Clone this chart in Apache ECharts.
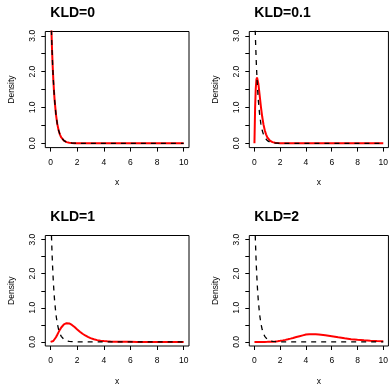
<!DOCTYPE html>
<html>
<head>
<meta charset="utf-8">
<script src="https://cdn.jsdelivr.net/npm/echarts@6/dist/echarts.min.js"></script>
<style>
  html, body { margin: 0; padding: 0; background: #fff; }
  #chart { width: 391px; height: 387px; }
</style>
</head>
<body>
<div id="chart"></div>
<script>
// Shared evaluation grid along x
const xGrid = [0, 0.05, 0.1, 0.15, 0.2, 0.25, 0.3, 0.4, 0.5, 0.6, 0.7, 0.8, 0.9, 1.0,
  1.2, 1.4, 1.6, 1.8, 2.0, 2.2, 2.4, 2.6, 2.8, 3.0, 3.25, 3.5, 3.75, 4.0, 4.25, 4.5,
  4.75, 5.0, 5.5, 6.0, 6.5, 7.0, 7.5, 8.0, 8.5, 9.0, 9.5, 10.0];

// Reference density (black dashed), same in every panel
const refDensity = [4.000, 3.275, 2.681, 2.195, 1.797, 1.472, 1.205, 0.808, 0.541, 0.363,
  0.243, 0.163, 0.109, 0.073, 0.033, 0.015, 0.007, 0.003, 0.001,
  0, 0, 0, 0, 0, 0, 0, 0, 0, 0, 0, 0, 0, 0, 0, 0, 0, 0, 0, 0, 0, 0, 0];

// Alternative densities (red), one per KL divergence
const densKLD0 = [4.000, 3.275, 2.681, 2.195, 1.797, 1.472, 1.205, 0.808, 0.541, 0.363,
  0.243, 0.163, 0.109, 0.073, 0.033, 0.015, 0.007, 0.003, 0.001,
  0, 0, 0, 0, 0, 0, 0, 0, 0, 0, 0, 0, 0, 0, 0, 0, 0, 0, 0, 0, 0, 0, 0];
const densKLD01 = [0, 0.974, 1.516, 1.771, 1.839, 1.791, 1.673, 1.353, 1.026, 0.747,
  0.528, 0.366, 0.250, 0.168, 0.074, 0.032, 0.013, 0.006, 0.002,
  0, 0, 0, 0, 0, 0, 0, 0, 0, 0, 0, 0, 0, 0, 0, 0, 0, 0, 0, 0, 0, 0, 0];
const densKLD1 = [0, 0.001, 0.004, 0.013, 0.027, 0.047, 0.073, 0.136, 0.210, 0.287,
  0.360, 0.423, 0.475, 0.515, 0.550, 0.540, 0.497, 0.435, 0.366, 0.300, 0.240, 0.188,
  0.145, 0.110, 0.076, 0.052, 0.035, 0.024, 0.016, 0.010, 0.007, 0.004, 0.002, 0.001,
  0, 0, 0, 0, 0, 0, 0, 0];
const densKLD2 = [0, 0, 0, 0, 0, 0, 0, 0, 0, 0, 0, 0, 0.001, 0.001, 0.003, 0.007, 0.013,
  0.021, 0.032, 0.045, 0.060, 0.077, 0.096, 0.116, 0.143, 0.168, 0.192, 0.215, 0.226,
  0.228, 0.224, 0.215, 0.195, 0.165, 0.134, 0.105, 0.081, 0.062, 0.047, 0.035, 0.026, 0.019];

const panelTitles = ['KLD=0', 'KLD=0.1', 'KLD=1', 'KLD=2'];
const panelDensities = [densKLD0, densKLD01, densKLD1, densKLD2];

const xTicks = [0, 2, 4, 6, 8, 10];
const yTicks = [0, 0.5, 1, 1.5, 2, 2.5, 3];
const yTickLabels = [0, 1, 2, 3];

const FONT = '"Liberation Sans", Arial, Helvetica, sans-serif';
const CELL = 204;
const BOX = { left: 45.3, top: 31.5, width: 143.7, height: 116.1 };

const pairs = (ys) => xGrid.map((x, i) => [x, ys[i]]);

const grids = [], xAxes = [], yAxes = [], series = [], titles = [];

panelTitles.forEach((name, i) => {
  const col = i % 2, row = Math.floor(i / 2);
  const left = BOX.left + col * CELL;
  const top = BOX.top + row * CELL;
  grids.push({
    left: left, top: top, width: BOX.width, height: BOX.height,
    show: true, borderColor: '#000', borderWidth: 1, backgroundColor: 'transparent',
    containLabel: false
  });
  xAxes.push({
    type: 'value', gridIndex: i, min: -0.4, max: 10.4, position: 'bottom',
    name: 'x', nameLocation: 'middle', nameGap: 31,
    nameTextStyle: { fontFamily: FONT, fontSize: 8.5, color: '#000' },
    axisLine: { show: false, onZero: false },
    axisTick: { show: true, inside: false, length: 4, customValues: xTicks, lineStyle: { color: '#000' } },
    axisLabel: { customValues: xTicks, margin: 10.5, fontFamily: FONT, fontSize: 8.5, color: '#000' },
    splitLine: { show: false }
  });
  yAxes.push({
    type: 'value', gridIndex: i, min: -0.12, max: 3.12, position: 'left',
    name: 'Density', nameLocation: 'middle', nameGap: 29,
    nameTextStyle: { fontFamily: FONT, fontSize: 8.5, color: '#000' },
    axisLine: { show: false, onZero: false },
    axisTick: { show: true, inside: false, length: 4, customValues: yTicks, lineStyle: { color: '#000' } },
    axisLabel: {
      customValues: yTickLabels, rotate: 90, margin: 8,
      fontFamily: FONT, fontSize: 8.5, color: '#000',
      formatter: (v) => Number(v).toFixed(1)
    },
    splitLine: { show: false }
  });
  series.push({
    type: 'line', xAxisIndex: i, yAxisIndex: i, data: pairs(panelDensities[i]),
    showSymbol: false, symbol: 'none', clip: true, silent: true, animation: false,
    lineStyle: { color: '#ff0000', width: 2 }, z: 2
  });
  series.push({
    type: 'line', xAxisIndex: i, yAxisIndex: i, data: pairs(refDensity),
    showSymbol: false, symbol: 'none', clip: true, silent: true, animation: false,
    lineStyle: { color: '#000', width: 1.3, type: [5, 5] }, z: 3
  });
  titles.push({
    text: name, left: left, top: top - 30,
    textStyle: { fontFamily: FONT, fontSize: 14, fontWeight: 'bold', color: '#000' }
  });
});

const chart = echarts.init(document.getElementById('chart'), null, { renderer: 'canvas' });
chart.setOption({
  animation: false,
  backgroundColor: '#fff',
  title: titles,
  grid: grids,
  xAxis: xAxes,
  yAxis: yAxes,
  series: series
});
</script>
</body>
</html>
